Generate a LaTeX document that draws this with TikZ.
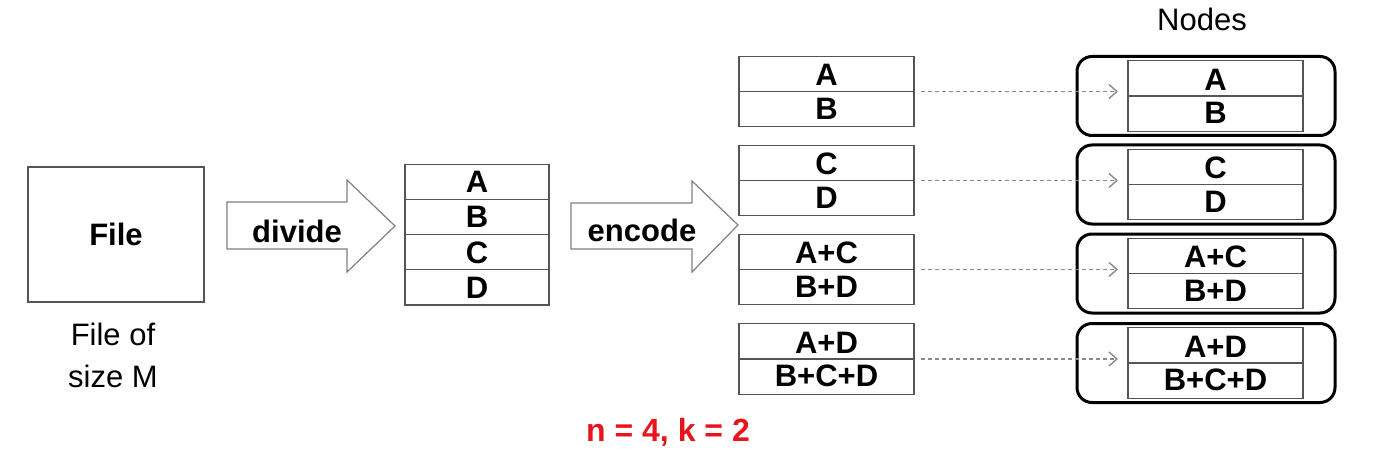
\documentclass[tikz,border=0pt]{standalone}
\usepackage{fontspec}
\setmainfont{Liberation Sans}
\usetikzlibrary{shapes.multipart,arrows.meta}
\definecolor{linegray}{HTML}{555555}
\definecolor{dashgray}{HTML}{8A8A8A}
\definecolor{labelred}{HTML}{E8141C}
\newcommand{\topstrut}{\rule[-2.5pt]{0pt}{17pt}}
\newcommand{\botstrut}{\rule[-3.5pt]{0pt}{17pt}}
\newcommand{\rowstrut}{\rule[-3pt]{0pt}{17pt}}
\begin{document}
\begin{tikzpicture}[x=0.5pt,y=-0.5pt,
    every node/.style={inner sep=0pt,outer sep=0pt},
    big/.style={font=\fontsize{15.5}{18}\selectfont\bfseries},
    plain/.style={font=\fontsize{15.5}{21}\selectfont},
    block/.style={big,draw=linegray,line width=0.6pt,rectangle split,
        rectangle split parts=#1,minimum width=87.5pt,inner ysep=0pt},
    nodebox/.style={draw=black,line width=1.5pt,rounded corners=7.5pt,
        minimum width=129pt,minimum height=39.5pt},
    bigarrow/.style={draw=gray,line width=0.6pt,fill=white},
    dasharrow/.style={dashgray,line width=0.7pt,dash pattern=on 2pt off 1.5pt,
        -{Straight Barb[length=4pt,width=7pt]}}]
    \useasboundingbox (0,0) rectangle (1376,460);

    %Archivo
    \node[big,draw=linegray,line width=0.6pt,minimum width=88pt,minimum height=67.5pt] (file) at (116,234.5) {File};
    \node[plain,align=center] (size) at (113,355) {File of\\size M};

    %Flecha divide
    \draw[bigarrow] (227,202) -- (347,202) -- (347,180) -- (395,226) -- (347,272) -- (347,249) -- (227,249) -- cycle;
    \node[big] (divide) at (297,231) {divide};

    %Partes
    \node[block=4,minimum width=72pt] (parts) at (477,234.5)
        {\rowstrut A\nodepart{two}\rowstrut B\nodepart{three}\rowstrut C\nodepart{four}\rowstrut D};

    %Flecha encode
    \draw[bigarrow] (571,203) -- (692,203) -- (692,181) -- (738,225) -- (692,272) -- (692,249) -- (571,249) -- cycle;
    \node[big] (encode) at (642,230) {encode};

    %Bloques codificados y nodos
    \node[plain] (nodes) at (1202,19) {Nodes};
    \foreach \i/\y/\ny/\top/\bot in {1/91.5/96/A/B,2/180.5/184.5/C/D,3/269.5/273.5/A+C/B+D,4/359/363/A+D/B+C+D}{
        \node[block=2] (c\i) at (826.5,\y) {\topstrut\top\nodepart{two}\botstrut\bot};
        \node[nodebox] (n\i) at (1206,\ny) {};
        \node[block=2] (s\i) at (1215.5,\ny) {\topstrut\top\nodepart{two}\botstrut\bot};
        \draw[dasharrow,shorten <=3.5pt,shorten >=5pt] (c\i.east) -- (c\i.east -| s\i.west);
    }

    \node[big,font=\fontsize{16}{18}\selectfont\bfseries,text=labelred] (nk) at (668,432) {n = 4, k = 2};
\end{tikzpicture}
\end{document}
